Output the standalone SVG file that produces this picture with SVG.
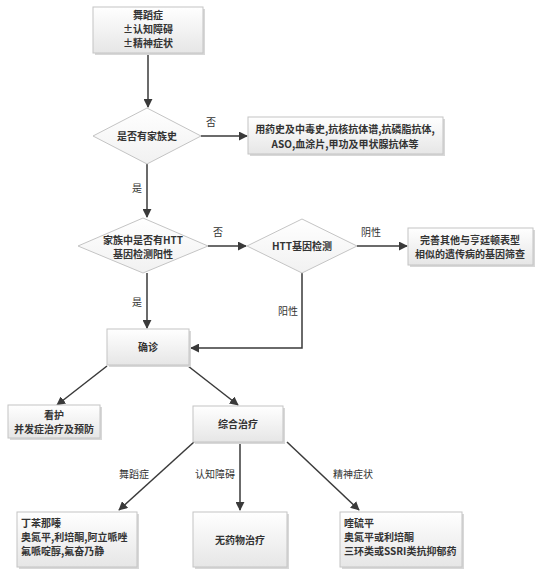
<svg xmlns="http://www.w3.org/2000/svg" width="548" height="576" viewBox="0 0 548 576">
<defs>
<linearGradient id="g" x1="0" y1="0" x2="0" y2="1"><stop offset="0" stop-color="#ffffff"/><stop offset="1" stop-color="#e6e6e6"/></linearGradient>
<linearGradient id="gd" x1="0" y1="0" x2="0" y2="1"><stop offset="0" stop-color="#ffffff"/><stop offset="1" stop-color="#f1f1f1"/></linearGradient>
<marker id="a" viewBox="0 0 10 10" refX="9" refY="5" markerWidth="9" markerHeight="9" markerUnits="userSpaceOnUse" orient="auto"><path d="M0,0 L10,5 L0,10 z" fill="#3a3a3a"/></marker>
</defs>
<style>
.bx{fill:url(#g);stroke:#c4c4c4;stroke-width:1}
.sh{fill:#d8d8d8}
.dm{fill:url(#gd);stroke:#c4c4c4;stroke-width:1}
.t{font-family:"Noto Sans CJK SC","Liberation Sans",sans-serif;font-size:10px;font-weight:bold;fill:#333;text-anchor:middle}
.tl{font-family:"Noto Sans CJK SC","Liberation Sans",sans-serif;font-size:10px;font-weight:bold;fill:#333;text-anchor:start}
.lb{font-family:"Noto Sans CJK SC","Liberation Sans",sans-serif;font-size:10px;fill:#333;text-anchor:middle}
.c{fill:none;stroke:#3a3a3a;stroke-width:1.5;marker-end:url(#a)}
</style>
<rect width="548" height="576" fill="#ffffff"/>
<g id="connectors">
<path class="c" d="M148,53 V107"/>
<path class="c" d="M201,136 H247"/>
<path class="c" d="M147,164 V217"/>
<path class="c" d="M208,246 H246"/>
<path class="c" d="M357,246 H407"/>
<path class="c" d="M302,273 V348 H191"/>
<path class="c" d="M147,273 V328"/>
<path class="c" d="M107,366 L57,405"/>
<path class="c" d="M188,366 L238,405"/>
<path class="c" d="M194,442 L119,510"/>
<path class="c" d="M240,442 V510"/>
<path class="c" d="M287,442 L359,510"/>
<text class="lb" x="211" y="126">否</text>
<text class="lb" x="137" y="192">是</text>
<text class="lb" x="218" y="236">否</text>
<text class="lb" x="371" y="236">阴性</text>
<text class="lb" x="288" y="315">阳性</text>
<text class="lb" x="137" y="306">是</text>
<text class="lb" x="134" y="478">舞蹈症</text>
<text class="lb" x="215" y="478">认知障碍</text>
<text class="lb" x="353" y="478">精神症状</text>
</g>
<g id="n1">
<rect class="sh" x="95" y="9" width="110" height="46"/>
<rect class="bx" x="93" y="7" width="110" height="46"/>
<text class="t" x="148" y="19">舞蹈症</text>
<text class="t" x="148" y="33">±认知障碍</text>
<text class="t" x="148" y="47">±精神症状</text>
</g>
<g id="d1">
<polygon class="dm" points="147,108 201,136 147,164 93,136"/>
<text class="t" x="147" y="140">是否有家族史</text>
</g>
<g id="n2">
<rect class="sh" x="250" y="119" width="195" height="37"/>
<rect class="bx" x="248" y="117" width="195" height="37"/>
<text class="t" x="345" y="133">用药史及中毒史,抗核抗体谱,抗磷脂抗体,</text>
<text class="t" x="345" y="148">ASO,血涂片,甲功及甲状腺抗体等</text>
</g>
<g id="d2">
<polygon class="dm" points="143,218 208,246 143,273 78,246"/>
<text class="t" x="143" y="244">家族中是否有HTT</text>
<text class="t" x="143" y="258">基因检测阳性</text>
</g>
<g id="d3">
<polygon class="dm" points="302,219 357,246 302,273 247,246"/>
<text class="t" x="302" y="250">HTT基因检测</text>
</g>
<g id="n3">
<rect class="sh" x="410" y="230" width="125" height="37"/>
<rect class="bx" x="408" y="228" width="125" height="37"/>
<text class="t" x="470" y="244">完善其他与亨廷顿表型</text>
<text class="t" x="470" y="258">相似的遗传病的基因筛查</text>
</g>
<g id="n4">
<rect class="sh" x="109" y="331" width="82" height="36"/>
<rect class="bx" x="107" y="329" width="82" height="36"/>
<text class="t" x="148" y="351">确诊</text>
</g>
<g id="n5">
<rect class="sh" x="10" y="407" width="92" height="33"/>
<rect class="bx" x="8" y="405" width="92" height="33"/>
<text class="t" x="54" y="419">看护</text>
<text class="t" x="54" y="433">并发症治疗及预防</text>
</g>
<g id="n6">
<rect class="sh" x="195" y="408" width="90" height="36"/>
<rect class="bx" x="193" y="406" width="90" height="36"/>
<text class="t" x="238" y="428">综合治疗</text>
</g>
<g id="n7">
<rect class="sh" x="19" y="514" width="120" height="55"/>
<rect class="bx" x="17" y="512" width="120" height="55"/>
<text class="tl" x="21" y="527">丁苯那嗪</text>
<text class="tl" x="21" y="541">奥氮平,利培酮,阿立哌唑</text>
<text class="tl" x="21" y="555">氟哌啶醇,氟奋乃静</text>
</g>
<g id="n8">
<rect class="sh" x="195" y="514" width="94" height="55"/>
<rect class="bx" x="193" y="512" width="94" height="55"/>
<text class="t" x="240" y="544">无药物治疗</text>
</g>
<g id="n9">
<rect class="sh" x="342" y="514" width="122" height="55"/>
<rect class="bx" x="340" y="512" width="122" height="55"/>
<text class="tl" x="344" y="527">喹硫平</text>
<text class="tl" x="344" y="541">奥氮平或利培酮</text>
<text class="tl" x="344" y="555">三环类或SSRI类抗抑郁药</text>
</g>
</svg>
